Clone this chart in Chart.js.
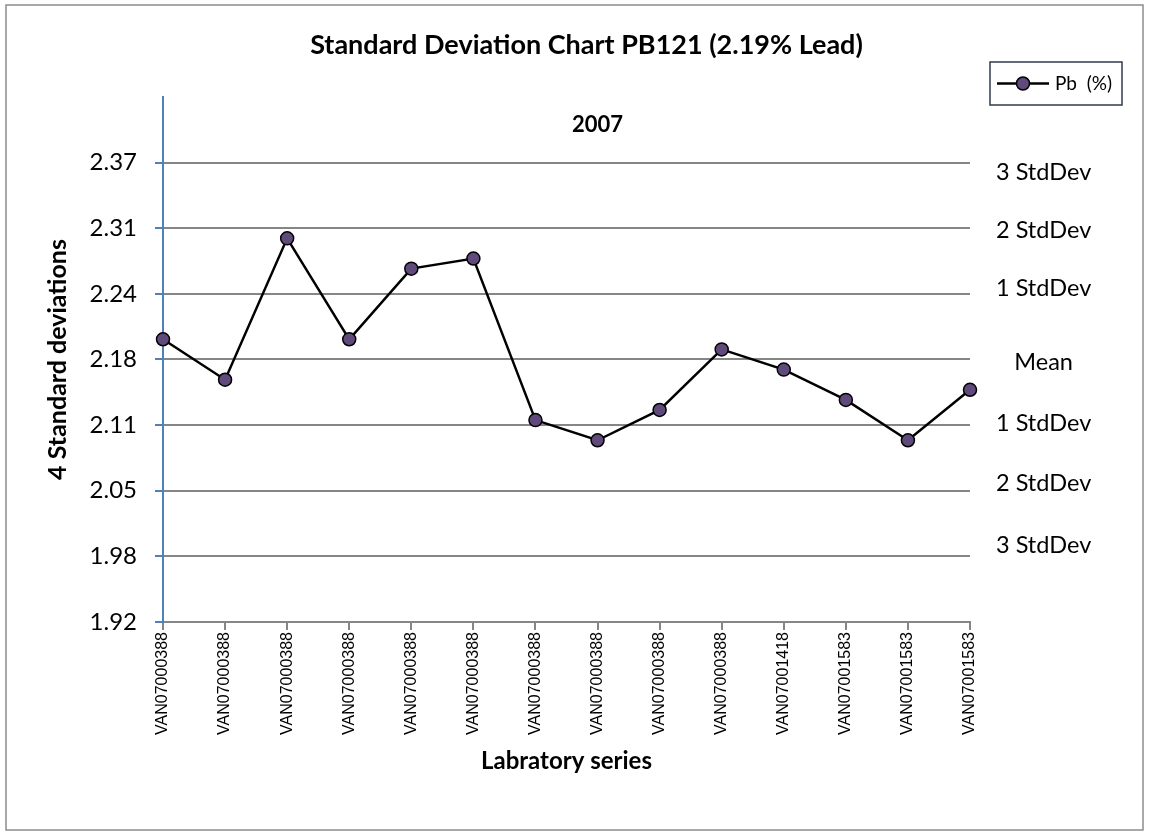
<!DOCTYPE html>
<html>
<head>
<meta charset="utf-8">
<script src="https://cdn.jsdelivr.net/npm/chart.js@4"></script>
<style>
  html, body { margin: 0; padding: 0; background: #fff; }
  #wrap { width: 1149px; height: 835px; }
</style>
</head>
<body>
<div id="wrap"><canvas id="sdChart" width="1149" height="835"></canvas></div>
<script>
const labSeries = [
    'VAN07000388', 'VAN07000388', 'VAN07000388', 'VAN07000388', 'VAN07000388',
    'VAN07000388', 'VAN07000388', 'VAN07000388', 'VAN07000388', 'VAN07000388',
    'VAN07001418', 'VAN07001583', 'VAN07001583', 'VAN07001583'
];
const pbValues = [2.20, 2.16, 2.30, 2.20, 2.27, 2.28, 2.12, 2.10, 2.13, 2.19, 2.17, 2.14, 2.10, 2.15];

const tickValues = [1.92, 1.985, 2.05, 2.115, 2.18, 2.245, 2.31, 2.375, 2.44];
const tickLabels = ['1.92', '1.98', '2.05', '2.11', '2.18', '2.24', '2.31', '2.37', ''];

// the StdDev captions sit a little off the gridlines in the original
const bandValues = [1.996, 2.057, 2.117, 2.177, 2.250, 2.308, 2.365];
const bandLabels = ['3 StdDev', '2 StdDev', '1 StdDev', 'Mean', '1 StdDev', '2 StdDev', '3 StdDev'];

const chartTitle = 'Standard Deviation Chart PB121 (2.19% Lead)';
const yearLabel = '2007';
const seriesName = 'Pb  (%)';

const GRID = '#868686';
const AXIS_BLUE = '#4F81BD';
const MARKER = '#604A7B';
const FONT = 'Lato, Calibri, sans-serif';

const lastTick = tickValues.length - 1;

// frame, year label and legend drawn straight on the canvas
const decorations = {
    id: 'decorations',
    afterDraw(chart) {
        const { ctx, chartArea } = chart;
        ctx.save();
        ctx.strokeStyle = '#8c8c8c';
        ctx.lineWidth = 1.5;
        ctx.strokeRect(6, 5, 1137, 825);

        ctx.fillStyle = '#000';
        ctx.font = `bold 22px ${FONT}`;
        ctx.textAlign = 'center';
        ctx.textBaseline = 'middle';
        ctx.fillText(yearLabel, (chartArea.left + chartArea.right) / 2 + 31, chartArea.top + 28);

        // legend
        const bx = 990, by = 62, bw = 132, bh = 43;
        ctx.strokeStyle = '#2e3b4e';
        ctx.lineWidth = 1.5;
        ctx.strokeRect(bx, by, bw, bh);
        const ly = by + bh / 2;
        ctx.strokeStyle = '#000';
        ctx.lineWidth = 2.5;
        ctx.beginPath();
        ctx.moveTo(bx + 7, ly);
        ctx.lineTo(bx + 59, ly);
        ctx.stroke();
        ctx.beginPath();
        ctx.arc(bx + 33, ly, 6.5, 0, Math.PI * 2);
        ctx.fillStyle = MARKER;
        ctx.fill();
        ctx.lineWidth = 1.5;
        ctx.stroke();
        ctx.fillStyle = '#000';
        ctx.font = `19px ${FONT}`;
        ctx.textAlign = 'left';
        ctx.fillText(seriesName, bx + 65, ly);
        ctx.restore();
    }
};

new Chart(document.getElementById('sdChart'), {
    type: 'line',
    data: {
        labels: labSeries,
        datasets: [{
            label: seriesName,
            data: pbValues,
            borderColor: '#000',
            borderWidth: 2.5,
            pointRadius: 6.5,
            pointBackgroundColor: MARKER,
            pointBorderColor: '#000',
            pointBorderWidth: 1.5,
            tension: 0,
            clip: false
        }]
    },
    options: {
        responsive: false,
        animation: false,
        devicePixelRatio: 1,
        layout: { padding: { left: 30, right: 6, top: 0, bottom: 0 } },
        plugins: {
            legend: { display: false },
            tooltip: { enabled: false },
            title: {
                display: true,
                text: chartTitle,
                color: '#000',
                font: { family: FONT, size: 27, weight: 'bold' },
                padding: { top: 29, bottom: 35.6 }
            }
        },
        scales: {
            x: {
                type: 'category',
                offset: false,
                grid: {
                    drawOnChartArea: false,
                    drawTicks: true,
                    tickLength: 8,
                    color: GRID,
                    lineWidth: 2
                },
                border: { color: GRID, width: 2 },
                ticks: {
                    autoSkip: false,
                    minRotation: 90,
                    maxRotation: 90,
                    padding: 2,
                    color: '#000',
                    font: { family: 'Liberation Sans, Arial, sans-serif', size: 16 }
                },
                title: {
                    display: true,
                    text: 'Labratory series',
                    color: '#000',
                    font: { family: FONT, size: 24, weight: 'bold' },
                    padding: { top: 0, bottom: 59 }
                },
                afterFit: (s) => { s.height = 213; }
            },
            y: {
                position: 'left',
                min: 1.92,
                max: 2.44,
                afterBuildTicks: (s) => { s.ticks = tickValues.map((v) => ({ value: v })); },
                ticks: {
                    callback: (v, i) => tickLabels[i],
                    color: '#000',
                    padding: 18,
                    font: { family: FONT, size: 24 }
                },
                grid: {
                    color: (c) => (c.index === lastTick ? 'rgba(0,0,0,0)' : GRID),
                    tickColor: (c) => (c.index === lastTick ? 'rgba(0,0,0,0)' : AXIS_BLUE),
                    lineWidth: 2,
                    tickLength: 8
                },
                border: { color: AXIS_BLUE, width: 2 },
                title: {
                    display: true,
                    text: '4 Standard deviations',
                    color: '#000',
                    font: { family: FONT, size: 25, weight: 'bold' },
                    padding: { top: 13, bottom: 0 }
                },
                afterFit: (s) => { s.width = 133; }
            },
            y2: {
                position: 'right',
                min: 1.92,
                max: 2.44,
                afterBuildTicks: (s) => { s.ticks = bandValues.map((v) => ({ value: v })); },
                ticks: {
                    callback: (v, i) => bandLabels[i],
                    crossAlign: 'center',
                    color: '#000',
                    padding: 18,
                    font: { family: FONT, size: 23.5 }
                },
                grid: { display: false },
                border: { display: false },
                afterFit: (s) => { s.width = 173; }
            }
        }
    },
    plugins: [decorations]
});
</script>
</body>
</html>
